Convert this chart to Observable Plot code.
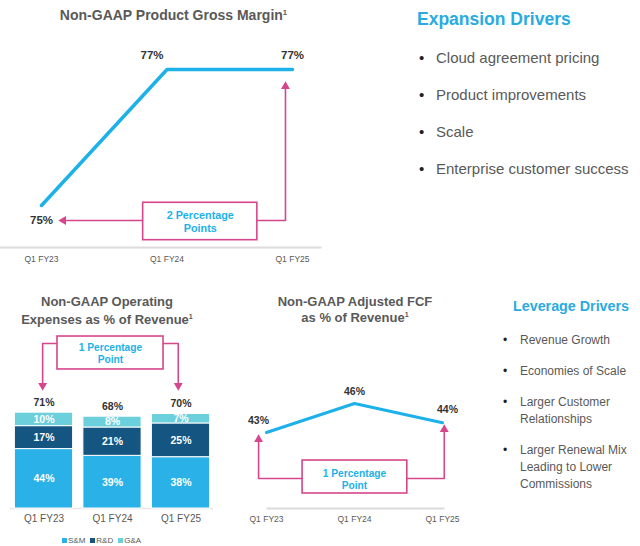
<!DOCTYPE html>
<html><head><meta charset="utf-8">
<script src="https://cdn.jsdelivr.net/npm/d3@7"></script>
<script src="https://cdn.jsdelivr.net/npm/@observablehq/plot@0.6"></script>
<style>
body{margin:0;background:#fff;font-family:"Liberation Sans",Arial,sans-serif;}
#root{position:relative;width:640px;height:546px;overflow:hidden;background:#fff;}
.ttl{position:absolute;color:#595959;font-weight:bold;text-align:center;white-space:nowrap;}
.ttl .sup{font-size:0.55em;position:relative;top:-0.65em;}
.head{position:absolute;color:#29abe2;font-weight:bold;white-space:nowrap;}
ul.drv{position:absolute;margin:0;padding:0;list-style:none;color:#595959;}
ul.drv li{position:relative;}
ul.drv li::before{content:"\2022";position:absolute;color:#222;}
#exp{left:436px;top:48px;font-size:15px;line-height:20px;}
#exp li{margin-bottom:17px;white-space:nowrap;}
#exp li::before{left:-17px;}
#lev{left:520px;top:332px;font-size:12px;line-height:17px;width:118px;}
#lev li{margin-bottom:14px;}
#lev li::before{left:-17px;}
#leg > span{margin-right:5px !important;}
#leg svg{margin-right:1px !important;}
</style></head>
<body><div id="root"></div>
<script>
// ---- data ----
const quarters = ["Q1 FY23", "Q1 FY24", "Q1 FY25"];
const grossMargin = [75, 77, 77];
const opexSeries = ["S&M", "R&D", "G&A"];
const opexSM = [44, 39, 38];
const opexRD = [17, 21, 25];
const opexGA = [10, 8, 7];
const opexTotal = [71, 68, 70];
const fcfMargin = [43, 46, 44];
const expansionDrivers = ["Cloud agreement pricing", "Product improvements", "Scale", "Enterprise customer success"];
const leverageDrivers = ["Revenue Growth", "Economies of Scale", "Larger Customer Relationships", "Larger Renewal Mix Leading to Lower Commissions"];
const gmNote = "2 Percentage\nPoints";
const opexNote = "1 Percentage\nPoint";
const fcfNote = "1 Percentage\nPoint";

// ---- styles ----
const CYAN = "#1db1e9", PINK = "#d6468b", GRAY = "#595959", DARK = "#333333";
const opexColors = ["#2ab1e7", "#155581", "#6bcfdc"];
const FONT = '"Liberation Sans", Arial, sans-serif';
const root = document.getElementById("root");
function place(el, left, top) {
  el.style.position = "absolute"; el.style.left = left + "px"; el.style.top = top + "px";
  root.appendChild(el); return el;
}
function div(cls, html, left, top, extra = {}) {
  const d = document.createElement("div"); d.className = cls; d.innerHTML = html;
  Object.assign(d.style, extra); return place(d, left, top);
}
const pct = d => d.v + "%";
const baseStyle = {fontFamily: FONT, background: "transparent", overflow: "visible"};

// ---- top: gross margin ----
const gmData = quarters.map((q, i) => ({i, q, v: grossMargin[i]}));
const gmPath = [{x: 0.175, y: 74.78}, {x: 1.944, y: 74.78}, {x: 1.944, y: 76.75}];
const topChart = Plot.plot({
  width: 330, height: 275, marginLeft: 0, marginRight: 10, marginTop: 0, marginBottom: 28,
  x: {type: "linear", domain: [0, 2], range: [41, 292], label: null},
  y: {domain: [75, 77], range: [205, 69], axis: null},
  style: baseStyle,
  marks: [
    Plot.frame({anchor: "bottom", stroke: "#dcdcdc", strokeWidth: 2}),
    Plot.axisX({ticks: [0, 1, 2], tickFormat: i => quarters[i], tickSize: 0, tickPadding: 8, fontSize: 8.5, fill: GRAY, label: null}),
    Plot.line(gmData, {x: "i", y: "v", stroke: CYAN, strokeWidth: 3.5}),
    Plot.text(gmData, {filter: d => d.i === 0, x: "i", y: "v", text: pct, dy: 15, fontSize: 11.5, fontWeight: "bold", fill: DARK}),
    Plot.text(gmData, {filter: d => d.i === 1, x: "i", y: "v", text: pct, dx: -15, dy: -14, fontSize: 11.5, fontWeight: "bold", fill: DARK}),
    Plot.text(gmData, {filter: d => d.i === 2, x: "i", y: "v", text: pct, dy: -14, fontSize: 11.5, fontWeight: "bold", fill: DARK}),
    Plot.line(gmPath, {x: "x", y: "y", stroke: PINK, strokeWidth: 1.6}),
    Plot.rect([{x1: 0.81, x2: 1.72, y1: 74.49, y2: 75.04}], {x1: "x1", x2: "x2", y1: "y1", y2: "y2", fill: "white", stroke: PINK, strokeWidth: 1.6}),
    Plot.text([gmNote], {x: () => 1.265, y: () => 74.76, text: d => d, fill: CYAN, fontWeight: "bold", fontSize: 10.8, lineHeight: 1.2}),
    Plot.dot([gmPath[0]], {x: "x", y: "y", symbol: "triangle", r: 3.3, fill: PINK, rotate: -90}),
    Plot.dot([gmPath[2]], {x: "x", y: "y", symbol: "triangle", r: 3.3, fill: PINK, rotate: 0})
  ]
});
place(topChart, 0, 0);
div("ttl", 'Non-GAAP Product Gross Margin<span class="sup">1</span>', 0, 6, {width: "347px", fontSize: "14px", lineHeight: "18px"});

// ---- right top: expansion drivers ----
div("head", "Expansion Drivers", 417, 9, {fontSize: "17.5px", lineHeight: "20px"});
const ulE = document.createElement("ul"); ulE.className = "drv"; ulE.id = "exp";
expansionDrivers.forEach(t => { const li = document.createElement("li"); li.textContent = t; ulE.appendChild(li); });
root.appendChild(ulE);

// ---- bottom left: opex stacked bars ----
const opexValues = [opexSM, opexRD, opexGA];
const opexData = opexSeries.flatMap((s, k) => quarters.map((q, i) => ({i, q, series: s, v: opexValues[k][i]})));
const totalsData = quarters.map((q, i) => ({i, q, v: opexTotal[i]}));
const opexPath = [{x: -0.02, y: 91.1}, {x: -0.02, y: 122.2}, {x: 1.96, y: 122.2}, {x: 1.96, y: 91.1}];
const barChart = Plot.plot({
  width: 230, height: 200, marginLeft: 10, marginRight: 17, marginTop: 0, marginBottom: 22,
  x: {type: "linear", domain: [0, 2], range: [43.5, 180.5], label: null},
  y: {domain: [0, 100], range: [178, 43], axis: null},
  color: {domain: opexSeries, range: opexColors},
  style: baseStyle,
  marks: [
    Plot.ruleY([0], {stroke: "#e6e6e6", strokeWidth: 1.5}),
    Plot.rectY(opexData, Plot.stackY({x: "i", x1: d => d.i - 0.425, x2: d => d.i + 0.425, y: "v", fill: "series", stroke: "white", strokeWidth: 1})),
    Plot.text(opexData, Plot.stackY({x: "i", y: "v", text: pct, fill: "white", fontWeight: "bold", fontSize: 10.5})),
    Plot.text(totalsData, {x: "i", y: "v", text: pct, dy: -10.5, fontWeight: "bold", fontSize: 10.5, fill: DARK}),
    Plot.axisX({ticks: [0, 1, 2], tickFormat: i => quarters[i], tickSize: 0, tickPadding: 6.5, fontSize: 10, fill: GRAY, label: null}),
    Plot.line(opexPath, {x: "x", y: "y", stroke: PINK, strokeWidth: 1.6}),
    Plot.rect([{x1: 0.197, x2: 1.745, y1: 103, y2: 127.4}], {x1: "x1", x2: "x2", y1: "y1", y2: "y2", fill: "white", stroke: PINK, strokeWidth: 1.6}),
    Plot.text([opexNote], {x: () => 0.97, y: () => 114.8, text: d => d, fill: CYAN, fontWeight: "bold", fontSize: 10.2, lineHeight: 1.15}),
    Plot.dot([opexPath[0], opexPath[3]], {x: "x", y: "y", symbol: "triangle", r: 3.3, fill: PINK, rotate: 180})
  ]
});
place(barChart, 0, 330);
div("ttl", 'Non-GAAP Operating<br>Expenses as % of Revenue<span class="sup">1</span>', 0, 293, {width: "214px", fontSize: "13px", lineHeight: "18px"});
const leg = Plot.legend({color: {domain: opexSeries, range: opexColors}, swatchWidth: 5, swatchHeight: 5, style: {fontFamily: FONT, fontSize: "8px", color: GRAY, background: "transparent", minHeight: "0px", margin: "0px"}});
leg.id = "leg";
place(leg, 62, 536);

// ---- bottom middle: FCF ----
const fcfData = quarters.map((q, i) => ({i, q, v: fcfMargin[i]}));
const fcfPath = [{x: -0.09, y: 42.28}, {x: -0.09, y: 38.24}, {x: 2.02, y: 38.24}, {x: 2.02, y: 43.31}];
const fcfChart = Plot.plot({
  width: 250, height: 200, marginLeft: 37, marginRight: 37, marginTop: 0, marginBottom: 22,
  x: {type: "linear", domain: [0, 2], range: [36, 212], label: null},
  y: {domain: [43, 46], range: [102, 73], axis: null},
  style: baseStyle,
  marks: [
    Plot.frame({anchor: "bottom", stroke: "#dcdcdc", strokeWidth: 2}),
    Plot.axisX({ticks: [0, 1, 2], tickFormat: i => quarters[i], tickSize: 0, tickPadding: 7, fontSize: 8.5, fill: GRAY, label: null}),
    Plot.line(fcfData, {x: "i", y: "v", stroke: CYAN, strokeWidth: 3}),
    Plot.text(fcfData, {filter: d => d.i === 0, x: "i", y: "v", text: pct, dx: -8, dy: -12, fontSize: 10.5, fontWeight: "bold", fill: DARK}),
    Plot.text(fcfData, {filter: d => d.i === 1, x: "i", y: "v", text: pct, dy: -12, fontSize: 10.5, fontWeight: "bold", fill: DARK}),
    Plot.text(fcfData, {filter: d => d.i === 2, x: "i", y: "v", text: pct, dx: 5, dy: -13, fontSize: 10.5, fontWeight: "bold", fill: DARK}),
    Plot.line(fcfPath, {x: "x", y: "y", stroke: PINK, strokeWidth: 1.6}),
    Plot.rect([{x1: 0.41, x2: 1.6, y1: 36.69, y2: 40.1}], {x1: "x1", x2: "x2", y1: "y1", y2: "y2", fill: "white", stroke: PINK, strokeWidth: 1.6}),
    Plot.text([fcfNote], {x: () => 1.0, y: () => 38.19, text: d => d, fill: CYAN, fontWeight: "bold", fontSize: 10.2, lineHeight: 1.15}),
    Plot.dot([fcfPath[0], fcfPath[3]], {x: "x", y: "y", symbol: "triangle", r: 3.3, fill: PINK, rotate: 0})
  ]
});
place(fcfChart, 230, 330);
div("ttl", 'Non-GAAP Adjusted FCF<br>as % of Revenue<span class="sup">1</span>', 255, 294, {width: "200px", fontSize: "13px", lineHeight: "15.5px"});

// ---- bottom right: leverage drivers ----
div("head", "Leverage Drivers", 513, 297, {fontSize: "14.3px", lineHeight: "18px"});
const ulL = document.createElement("ul"); ulL.className = "drv"; ulL.id = "lev";
leverageDrivers.forEach(t => { const li = document.createElement("li"); li.textContent = t; ulL.appendChild(li); });
root.appendChild(ulL);
</script>
</body></html>
